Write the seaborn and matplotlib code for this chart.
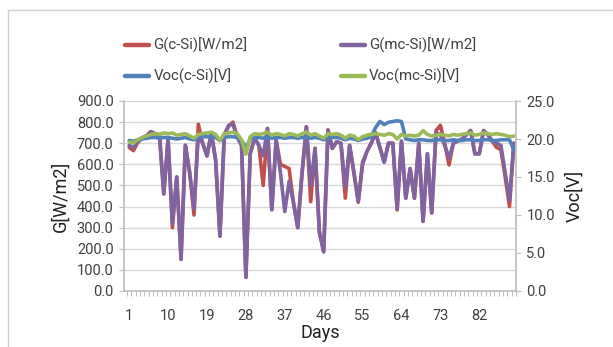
import numpy as np
import pandas as pd
import matplotlib
matplotlib.use("Agg")
import matplotlib.pyplot as plt
import seaborn as sns
from matplotlib.lines import Line2D
from matplotlib.ticker import FormatStrFormatter

# ---------------- data ----------------
days = list(range(1, 91))

g_mcsi = [690, 680, 705, 725, 735, 755, 745, 740, 460, 720,
          320, 540, 150, 690, 560, 390, 740, 700, 640, 750,
          620, 260, 740, 785, 790, 730, 690, 65, 650, 725,
          690, 640, 770, 385, 715, 560, 376, 520, 420, 300,
          560, 778, 500, 676, 280, 186, 763, 676, 707, 700,
          490, 690, 560, 425, 600, 660, 700, 750, 680, 610,
          700, 700, 390, 710, 440, 580, 440, 700, 330, 650,
          370, 750, 740, 690, 630, 700, 710, 720, 740, 760,
          650, 650, 760, 740, 710, 700, 690, 560, 430, 700]

g_csi = [680, 665, 705, 725, 735, 755, 745, 740, 460, 720,
         300, 540, 150, 690, 560, 360, 790, 700, 640, 750,
         620, 260, 740, 780, 800, 730, 690, 65, 650, 725,
         690, 500, 770, 385, 715, 600, 590, 580, 420, 300,
         560, 778, 423, 676, 280, 186, 763, 676, 707, 700,
         440, 690, 560, 420, 610, 660, 700, 750, 680, 610,
         700, 700, 384, 710, 440, 580, 440, 700, 330, 650,
         370, 760, 785, 700, 597, 700, 710, 720, 740, 760,
         650, 650, 760, 740, 710, 680, 670, 540, 400, 700]

voc_csi = [19.8, 19.7, 19.9, 20.0, 20.1, 20.2, 20.2, 20.1, 20.2, 20.2,
           20.1, 20.0, 20.1, 20.2, 20.0, 19.9, 20.2, 20.3, 20.3, 20.3,
           20.2, 19.8, 20.2, 20.3, 20.3, 20.2, 19.8, 18.9, 20.0, 20.2,
           20.2, 20.1, 20.3, 20.1, 20.2, 20.2, 20.1, 20.2, 20.2, 20.1,
           20.2, 20.3, 20.1, 20.2, 20.1, 19.9, 20.2, 20.2, 20.2, 20.1,
           19.9, 20.1, 20.0, 19.8, 20.0, 20.1, 20.3, 21.5, 22.3, 21.9,
           22.2, 22.3, 22.4, 22.3, 20.0, 19.9, 19.8, 19.9, 19.9, 19.8,
           19.8, 19.9, 19.9, 19.8, 19.8, 19.9, 19.8, 19.8, 19.9, 19.9,
           19.8, 19.8, 19.9, 19.9, 19.8, 19.8, 19.9, 19.9, 19.9, 18.6]

voc_mcsi = [19.6, 19.5, 19.9, 20.2, 20.4, 20.6, 20.7, 20.6, 20.8, 20.7,
            20.8, 20.5, 20.6, 20.7, 20.4, 20.1, 20.6, 20.7, 20.8, 20.9,
            20.6, 19.8, 20.7, 20.8, 20.9, 20.7, 19.9, 18.0, 20.3, 20.7,
            20.6, 20.7, 20.9, 20.5, 20.7, 20.6, 20.4, 20.7, 20.6, 20.4,
            20.7, 20.9, 20.5, 20.7, 20.4, 20.1, 20.7, 20.6, 20.7, 20.5,
            20.1, 20.5, 20.4, 19.9, 20.3, 20.5, 20.6, 20.7, 20.6, 20.5,
            20.7, 20.6, 20.0, 20.6, 20.4, 20.5, 20.4, 20.5, 21.1, 20.6,
            20.4, 20.5, 20.6, 20.5, 20.4, 20.6, 20.5, 20.6, 20.7, 20.8,
            20.5, 20.6, 20.8, 20.7, 20.6, 20.7, 20.6, 20.5, 20.3, 20.4]

x_tick_days = [1, 10, 19, 28, 37, 46, 55, 64, 73, 82]
left_ticks = [0, 100, 200, 300, 400, 500, 600, 700, 800, 900]
right_ticks = [0, 5, 10, 15, 20, 25]

names = ["G(c-Si)[W/m2]", "G(mc-Si)[W/m2]", "Voc(c-Si)[V]", "Voc(mc-Si)[V]"]
colors = ["#C0504D", "#8064A2", "#4F81BD", "#9BBB59"]

df = pd.DataFrame({"Day": days, "gc": g_csi, "gm": g_mcsi,
                   "vc": voc_csi, "vm": voc_mcsi})

# ---------------- style ----------------
sns.set_theme(style="white")
plt.rcParams['font.family'] = ['Roboto', 'DejaVu Sans']

W, H = 613, 347
fig = plt.figure(figsize=(W / 100, H / 100), dpi=100)

# chart frame (top and left edges visible)
fig.add_artist(Line2D([8 / W, 1.0], [1 - 10 / H, 1 - 10 / H], color="#d0d0d0", lw=1))
fig.add_artist(Line2D([8 / W, 8 / W], [0, 1 - 10 / H], color="#d0d0d0", lw=1))

L, R, T, B = 124, 516, 101, 291
ax = fig.add_axes([L / W, 1 - B / H, (R - L) / W, (B - T) / H])
ax2 = ax.twinx()

lw = 2.6
sns.lineplot(data=df, x="Day", y="gc", ax=ax, color=colors[0], lw=lw, legend=False)
sns.lineplot(data=df, x="Day", y="gm", ax=ax, color=colors[1], lw=lw, legend=False)
sns.lineplot(data=df, x="Day", y="vc", ax=ax2, color=colors[2], lw=lw, legend=False)
sns.lineplot(data=df, x="Day", y="vm", ax=ax2, color=colors[3], lw=lw, legend=False)

ax.set_xlim(-0.2, 90.3)
ax.set_ylim(0, 900)
ax2.set_ylim(0, 25)

grid_c = "#d9d9d9"
axis_c = "#bfbfbf"
ax.set_yticks(left_ticks)
ax.yaxis.set_major_formatter(FormatStrFormatter("%.1f"))
ax2.set_yticks(right_ticks)
ax2.yaxis.set_major_formatter(FormatStrFormatter("%.1f"))
ax.grid(axis="y", color=grid_c, lw=1)
ax.grid(axis="x", visible=False)
ax2.grid(False)

ax.set_xticks(x_tick_days)
ax.set_xticklabels([str(d) for d in x_tick_days])
ax.set_xticks(np.arange(0.5, 90.6, 1.0), minor=True)

tick_c = "#404040"
ax.tick_params(axis="x", which="major", length=0, pad=13, labelsize=10.5, labelcolor=tick_c)
ax.tick_params(axis="x", which="minor", length=3.5, width=0.8, color=axis_c, bottom=True)
ax.tick_params(axis="y", which="major", length=3.5, width=0.8, color=axis_c, left=True,
               pad=4, labelsize=10.5, labelcolor=tick_c)
ax2.tick_params(axis="y", which="major", length=3.5, width=0.8, color=axis_c, right=True,
                pad=4, labelsize=10.5, labelcolor=tick_c)

for a in (ax, ax2):
    for s in a.spines.values():
        s.set_visible(False)
ax.spines["left"].set_visible(True)
ax.spines["left"].set_color(axis_c)
ax.spines["bottom"].set_visible(True)
ax.spines["bottom"].set_color(axis_c)
ax2.spines["right"].set_visible(True)
ax2.spines["right"].set_color(axis_c)

ax.set_xlabel("Days", fontsize=13, color="#202020", labelpad=1)
ax.set_ylabel("G[W/m2]", fontsize=13, color="#202020", labelpad=5)
ax2.set_ylabel("Voc[V]", fontsize=13, color="#202020", labelpad=7, rotation=90)

handles = [Line2D([], [], color=c, lw=3.2) for c in colors]
order = [0, 2, 1, 3]
fig.legend([handles[i] for i in order], [names[i] for i in order],
           loc="upper left", bbox_to_anchor=(125 / W, 1 - 38 / H), ncol=2,
           frameon=False, fontsize=10.8, handlelength=1.6, handletextpad=0.3,
           columnspacing=6.2, labelspacing=1.05, borderpad=0, borderaxespad=0,
           labelcolor="#404040")

fig.savefig("out.png", dpi=100)
